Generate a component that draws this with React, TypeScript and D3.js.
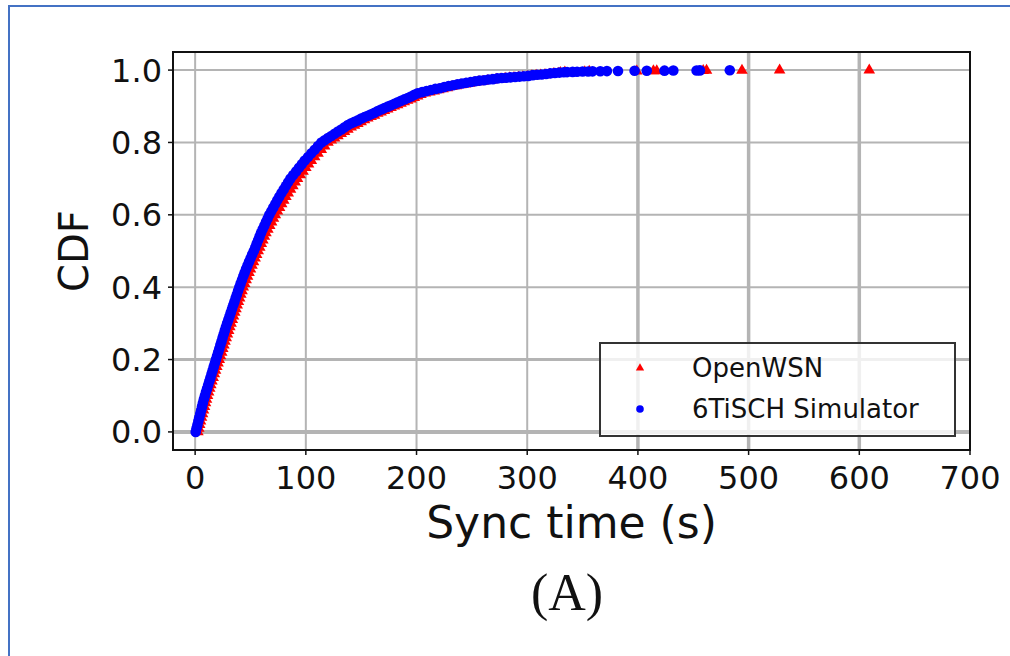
import React from "react";
import * as d3 from "d3";

// CDF samples: [sync time (s), CDF]
const openwsnCurve: [number, number][] = [
  [2.5, 0.0], [3.3, 0.01], [4.1, 0.02], [4.9, 0.03], [5.8, 0.04], [6.7, 0.05], [7.6, 0.06], [8.5, 0.07],
  [9.4, 0.08], [10.3, 0.09], [11.2, 0.1], [12.2, 0.11], [13.2, 0.12], [14.2, 0.13], [15.2, 0.14], [16.3, 0.15],
  [17.4, 0.16], [18.5, 0.17], [19.6, 0.18], [20.7, 0.19], [21.8, 0.2], [22.9, 0.21], [24.0, 0.22], [25.0, 0.23],
  [26.0, 0.24], [27.0, 0.25], [28.1, 0.26], [29.2, 0.27], [30.3, 0.28], [31.4, 0.29], [32.5, 0.3], [33.6, 0.31],
  [34.7, 0.32], [35.8, 0.33], [36.9, 0.34], [38.0, 0.35], [39.1, 0.36], [40.2, 0.37], [41.3, 0.38], [42.4, 0.39],
  [43.5, 0.4], [44.8, 0.41], [46.1, 0.42], [47.4, 0.43], [48.7, 0.44], [50.0, 0.45], [51.4, 0.46], [52.8, 0.47],
  [54.2, 0.48], [55.6, 0.49], [57.0, 0.5], [58.4, 0.51], [59.8, 0.52], [61.2, 0.53], [62.6, 0.54], [64.0, 0.55],
  [65.7, 0.56], [67.4, 0.57], [69.1, 0.58], [70.8, 0.59], [72.5, 0.6], [74.4, 0.61], [76.3, 0.62], [78.2, 0.63],
  [80.1, 0.64], [82.0, 0.65], [84.1, 0.66], [86.2, 0.67], [88.3, 0.68], [90.4, 0.69], [92.5, 0.7], [95.0, 0.71],
  [97.5, 0.72], [100, 0.73], [102.5, 0.74], [105, 0.75], [108, 0.76], [111, 0.77], [114, 0.78], [117, 0.79],
  [120, 0.8], [123, 0.806], [126, 0.812], [129, 0.818], [132, 0.824], [135, 0.83], [138, 0.836], [141, 0.842],
  [144, 0.847], [147, 0.852], [150, 0.857], [153, 0.862], [156, 0.867], [159, 0.871], [162, 0.875], [165, 0.88],
  [168, 0.884], [171, 0.888], [174, 0.892], [177, 0.896], [180, 0.9], [183, 0.904], [186, 0.908], [189, 0.912],
  [192, 0.916], [195, 0.92], [198, 0.924], [201, 0.928], [204, 0.932], [208, 0.936], [212, 0.939], [216, 0.942],
  [220, 0.945], [224, 0.948], [228, 0.951], [232, 0.954], [236, 0.956], [240, 0.959], [244, 0.961], [248, 0.963],
  [252, 0.965], [256, 0.967], [260, 0.969], [264, 0.971], [268, 0.972], [272, 0.974], [276, 0.975], [280, 0.977],
  [284, 0.978], [288, 0.979], [292, 0.98], [296, 0.981], [300, 0.982], [304, 0.984], [308, 0.985], [312, 0.986],
  [316, 0.987], [320, 0.988], [324, 0.99], [328, 0.991],
];
const openwsnTail: [number, number][] = [
  [330, 0.993], [334, 0.994], [352, 0.995], [356, 0.996], [399, 0.997], [414, 0.9975], [417, 0.998],
  [459, 0.9985], [462, 0.999], [494, 0.9993], [528, 0.9996], [609, 1.0],
];

const simCurve: [number, number][] = [
  [0.5, 0.0], [1.3, 0.01], [2.1, 0.02], [2.9, 0.03], [3.7, 0.04], [4.6, 0.05], [5.4, 0.06], [6.2, 0.07],
  [7.0, 0.08], [7.9, 0.09], [8.8, 0.1], [9.8, 0.11], [10.8, 0.12], [11.8, 0.13], [12.8, 0.14], [13.8, 0.15],
  [14.8, 0.16], [15.8, 0.17], [16.8, 0.18], [17.8, 0.19], [18.8, 0.2], [19.8, 0.21], [20.8, 0.22], [21.8, 0.23],
  [22.8, 0.24], [23.8, 0.25], [24.8, 0.26], [25.8, 0.27], [26.8, 0.28], [27.8, 0.29], [28.9, 0.3], [30.0, 0.31],
  [31.1, 0.32], [32.2, 0.33], [33.3, 0.34], [34.4, 0.35], [35.5, 0.36], [36.6, 0.37], [37.7, 0.38], [38.8, 0.39],
  [39.9, 0.4], [41.1, 0.41], [42.3, 0.42], [43.5, 0.43], [44.7, 0.44], [46.0, 0.45], [47.3, 0.46], [48.7, 0.47],
  [50.1, 0.48], [51.5, 0.49], [53.0, 0.5], [54.3, 0.51], [55.6, 0.52], [56.9, 0.53], [58.2, 0.54], [59.5, 0.55],
  [61.0, 0.56], [62.5, 0.57], [64.0, 0.58], [65.5, 0.59], [67.0, 0.6], [68.8, 0.61], [70.6, 0.62], [72.4, 0.63],
  [74.2, 0.64], [76.0, 0.65], [78.0, 0.66], [80.0, 0.67], [82.0, 0.68], [84.0, 0.69], [86.0, 0.7], [88.6, 0.71],
  [91.2, 0.72], [93.8, 0.73], [96.4, 0.74], [99.0, 0.75], [102, 0.76], [105, 0.77], [108, 0.78], [111, 0.79],
  [114, 0.8], [117, 0.806], [120, 0.812], [123, 0.818], [126, 0.824], [129, 0.83], [132, 0.836], [135, 0.842],
  [138, 0.848], [141, 0.853], [144, 0.857], [147, 0.861], [150, 0.866], [153, 0.87], [156, 0.874], [159, 0.878],
  [162, 0.882], [165, 0.887], [168, 0.891], [171, 0.895], [174, 0.899], [177, 0.903], [180, 0.907], [183, 0.911],
  [186, 0.915], [189, 0.919], [192, 0.923], [195, 0.927], [198, 0.932], [201, 0.936], [205, 0.939], [209, 0.942],
  [213, 0.945], [217, 0.948], [221, 0.95], [225, 0.953], [229, 0.956], [233, 0.958], [237, 0.961], [241, 0.963],
  [245, 0.965], [249, 0.967], [253, 0.969], [257, 0.971], [261, 0.972], [265, 0.974], [269, 0.975], [273, 0.977],
  [277, 0.978], [281, 0.979], [285, 0.98], [289, 0.981], [293, 0.982], [297, 0.983], [301, 0.984], [305, 0.986],
  [309, 0.987], [313, 0.988], [317, 0.989], [321, 0.991], [325, 0.992], [329, 0.993],
];
const simTail: [number, number][] = [
  [333, 0.994], [336, 0.9945], [341, 0.995], [345, 0.9955], [350, 0.996], [355, 0.9962], [359, 0.9965],
  [366, 0.997], [372, 0.9972], [382, 0.9975], [397, 0.998], [408, 0.9982], [424, 0.9985], [432, 0.9988],
  [453, 0.999], [456, 0.9992], [483, 0.9995],
];

const xTicks = [0, 100, 200, 300, 400, 500, 600, 700];
const yTicks = [0, 0.2, 0.4, 0.6, 0.8, 1.0];
const seriesNames = ["OpenWSN", "6TiSCH Simulator"];

const W = 1010;
const H = 656;
const font = "'DejaVu Sans', sans-serif";

const triangle = d3.symbol(d3.symbolTriangle, 58)();

const App = () => {
  const x = d3.scaleLinear().domain([-20, 700]).range([173, 970]);
  const y = d3.scaleLinear().domain([-0.05, 1.05]).range([450, 52]);
  const [x0, x1] = x.range();
  const [y0, y1] = y.range();

  // the scan makes some grid lines look heavier
  const vWidth = (t: number) => (t >= 400 && t <= 600 ? 3.5 : 2);
  const hWidth = (t: number) => (t === 0 ? 4 : t === 0.2 ? 3 : 2);

  const red = [...openwsnCurve, ...openwsnTail];
  const blue = [...simCurve, ...simTail];

  return (
    <svg width={W} height={H} style={{ position: "absolute", left: 0, top: 0, background: "#fff" }}>
      <rect x={0} y={0} width={W} height={H} fill="#fff" />
      <path d={`M 9,${H} L 9,6 L ${W},6`} fill="none" stroke="#4472c4" strokeWidth={2} />

      {/* grid */}
      {xTicks.map(t => (
        <line key={"gx" + t} x1={x(t)} x2={x(t)} y1={y0} y2={y1} stroke="#b4b4b4" strokeWidth={vWidth(t)} />
      ))}
      {yTicks.map(t => (
        <line key={"gy" + t} x1={x0} x2={x1} y1={y(t)} y2={y(t)} stroke="#b4b4b4" strokeWidth={hWidth(t)} />
      ))}

      {/* points */}
      {red.map((d, i) => (
        <path key={"r" + i} d={triangle!} transform={`translate(${x(d[0])},${y(d[1])})`} fill="#ff0000" />
      ))}
      {blue.map((d, i) => (
        <circle key={"b" + i} cx={x(d[0])} cy={y(d[1])} r={5.3} fill="#0000ff" />
      ))}

      {/* legend */}
      <g transform="translate(600,343)">
        <rect x={0} y={0} width={355} height={93} fill="#fff" fillOpacity={0.8} stroke="#333" strokeWidth={2} />
        <path d={d3.symbol(d3.symbolTriangle, 30)()!} transform="translate(40,25)" fill="#ff0000" />
        <circle cx={40} cy={66} r={3.8} fill="#0000ff" />
        {seriesNames.map((s, i) => (
          <text key={s} x={92} y={34 + i * 41} fontFamily={font} fontSize={26} fill="#111">
            {s}
          </text>
        ))}
      </g>

      {/* frame */}
      <rect x={x0} y={y1} width={x1 - x0} height={y0 - y1} fill="none" stroke="#111" strokeWidth={2} />

      {/* ticks */}
      {xTicks.map(t => (
        <g key={"tx" + t}>
          <line x1={x(t)} x2={x(t)} y1={y0} y2={y0 + 5} stroke="#111" strokeWidth={1.5} />
          <text x={x(t)} y={489} textAnchor="middle" fontFamily={font} fontSize={32} fill="#111">
            {t}
          </text>
        </g>
      ))}
      {yTicks.map(t => (
        <g key={"ty" + t}>
          <line x1={x0 - 5} x2={x0} y1={y(t)} y2={y(t)} stroke="#111" strokeWidth={1.5} />
          <text x={162} y={y(t)} dy="0.36em" textAnchor="end" fontFamily={font} fontSize={32} fill="#111">
            {t.toFixed(1)}
          </text>
        </g>
      ))}

      <text x={(x0 + x1) / 2} y={538} textAnchor="middle" fontFamily={font} fontSize={44} fill="#111">
        Sync time (s)
      </text>
      <text
        transform={`translate(88,${(y0 + y1) / 2}) rotate(-90)`}
        textAnchor="middle"
        fontFamily={font}
        fontSize={40}
        fill="#111"
      >
        CDF
      </text>

      <text x={567} y={610} textAnchor="middle" fontFamily="'Liberation Serif', serif" fontSize={52} fill="#111">
        (A)
      </text>
    </svg>
  );
};

export default App;
